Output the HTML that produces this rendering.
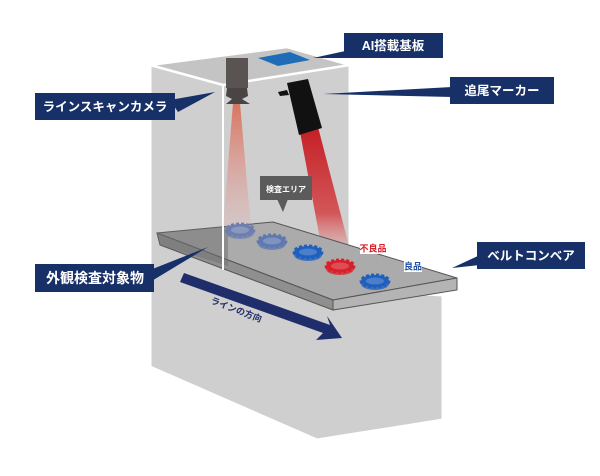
<!DOCTYPE html>
<html><head><meta charset="utf-8"><style>
html,body{margin:0;padding:0;background:#fff;width:600px;height:476px;overflow:hidden}
svg{display:block}
text{font-family:"Liberation Sans","Noto Sans CJK JP",sans-serif}
</style></head><body>
<svg width="600" height="476" viewBox="0 0 600 476" xmlns="http://www.w3.org/2000/svg">
<defs>
<linearGradient id="cb" x1="0" y1="0" x2="0" y2="1"><stop offset="0" stop-color="#d9644c" stop-opacity="0.85"/><stop offset="1" stop-color="#e8a0a0" stop-opacity="0.1"/></linearGradient>
<linearGradient id="rb" x1="0" y1="0" x2="0" y2="1"><stop offset="0" stop-color="#c41e24"/><stop offset="0.7" stop-color="#d3373a" stop-opacity="0.8"/><stop offset="1" stop-color="#e66" stop-opacity="0.15"/></linearGradient>
<g id="gear"><ellipse cx="0" cy="3" rx="14" ry="6" fill="currentColor" opacity="0.75"/><ellipse cx="0" cy="0" rx="14" ry="6" fill="currentColor" stroke="currentColor" stroke-width="3" stroke-dasharray="3 2"/><ellipse cx="0" cy="0" rx="9" ry="3.5" fill="#fff" opacity="0.2"/></g>
</defs>
<!-- box body -->
<polygon points="150,65 287,47 350,65 350,290 443,295 443,420 317,440 150,367" fill="#cfcfcf" stroke="#fff" stroke-width="3"/>
<polygon points="150,65 287,47 350,65 223,85" fill="#c4c4c4" stroke="#fff" stroke-width="2.5"/>
<line x1="223" y1="85" x2="223" y2="262" stroke="#fff" stroke-width="2"/>
<!-- board -->
<polygon points="258,58 290,52 310,60 278,66" fill="#1f6db8"/>
<!-- camera beam -->
<polygon points="233,103 240,103 252,240 222,240" fill="url(#cb)"/>
<!-- camera -->
<rect x="226" y="58" width="22" height="30" fill="#595352"/>
<polygon points="227,88 247,88 248,96 242,99 250,104 226,104 232,99 226,96" fill="#4a4544"/>
<!-- marker beam -->
<polygon points="300,132 318,127 350,250 322,250" fill="url(#rb)"/>
<!-- marker -->
<polygon points="287,83 308,79 322,128 299,135" fill="#111"/>
<path d="M287,90 L278,92 L280,96 L289,95Z" fill="#111"/>
<!-- belt -->
<polygon points="157,233 273,222 457,278 333,300" fill="#ababab" stroke="#555" stroke-width="1"/>
<polygon points="157,233 333,300 333,310 160,245" fill="#8f8f8f" stroke="#555" stroke-width="1"/>
<polygon points="333,300 457,278 457,290 333,310" fill="#b4b4b4" stroke="#555" stroke-width="1"/>
<polygon points="157,233 228,226 228,266 160,245" fill="#6f6f6f" opacity="0.5"/>
<line x1="223" y1="225" x2="223" y2="270" stroke="#fff" stroke-width="2"/>
<!-- gears -->
<use href="#gear" x="240" y="230" style="color:#6d7fae"/>
<use href="#gear" x="272" y="241" style="color:#5e78b0"/>
<use href="#gear" x="308" y="252" style="color:#1f5fbd"/>
<use href="#gear" x="340" y="266" style="color:#d8202a"/>
<use href="#gear" x="375" y="281" style="color:#1f5fbd"/>
<rect x="360" y="242" width="26" height="12" fill="#fff"/>
<text x="373" y="251.5" font-size="9" font-weight="bold" fill="#d8202a" text-anchor="middle">不良品</text>
<rect x="404" y="260" width="18" height="12" fill="#fff"/>
<text x="413" y="269.5" font-size="9" font-weight="bold" fill="#1f4fa0" text-anchor="middle">良品</text>
<!-- inspection area callout -->
<rect x="260" y="176" width="52" height="24" fill="#5b5b5b"/>
<polygon points="277,199 288,199 283,212" fill="#5b5b5b"/>
<text x="286" y="192" font-size="8" font-weight="bold" fill="#fff" text-anchor="middle">検査エリア</text>
<!-- direction arrow -->
<polygon points="184,273 330,325 327,316 342,338 316,340 323,333 180,282" fill="#1f2d6b"/>
<text transform="translate(210,303) rotate(21)" font-size="9" font-weight="bold" fill="#1f2d6b">ラインの方向</text>
<!-- labels -->
<g fill="#183068">
<rect x="344" y="33" width="99" height="25"/><polygon points="350,50 344,58 313,58"/>
<rect x="450" y="77" width="104" height="27"/><polygon points="452,87 452,97 323,94"/>
<rect x="35" y="93" width="140" height="27"/><polygon points="170,100 178,112 215,92"/>
<rect x="35" y="264" width="119" height="28"/><polygon points="150,270 150,282 208,247"/>
<rect x="477" y="242" width="108" height="27"/><polygon points="480,255 480,265 452,268"/>
</g>
<g fill="#fff" font-size="12.5" font-weight="bold" text-anchor="middle">
<text x="393" y="50">AI搭載基板</text>
<text x="502" y="95">追尾マーカー</text>
<text x="105" y="111">ラインスキャンカメラ</text>
<text x="95" y="283" font-size="14">外観検査対象物</text>
<text x="531" y="260">ベルトコンベア</text>
</g>
</svg>
</body></html>
